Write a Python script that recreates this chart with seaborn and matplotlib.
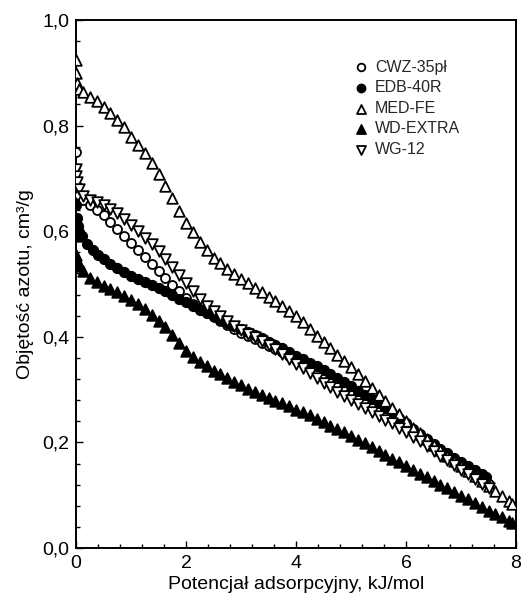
import matplotlib
matplotlib.use("Agg")
import matplotlib.pyplot as plt
import seaborn as sns
import pandas as pd
from matplotlib.ticker import MultipleLocator, FuncFormatter

# ---- data ----
series_names = ["CWZ-35pł", "EDB-40R", "MED-FE", "WD-EXTRA", "WG-12"]

CWZ_35pl = [(0, 0.750), (0.02, 0.685), (0.06, 0.668), (0.125, 0.660), (0.25, 0.650), (0.375, 0.640),
            (0.5, 0.630), (0.625, 0.618), (0.75, 0.604), (0.875, 0.591), (1.0, 0.578), (1.125, 0.565),
            (1.25, 0.551), (1.375, 0.538), (1.5, 0.525), (1.625, 0.512), (1.75, 0.499), (1.875, 0.486),
            (2.0, 0.474), (2.125, 0.463), (2.25, 0.453), (2.375, 0.445), (2.5, 0.437), (2.625, 0.429),
            (2.75, 0.422), (2.875, 0.415), (3.0, 0.408), (3.125, 0.402), (3.25, 0.396), (3.375, 0.389),
            (3.5, 0.383), (3.625, 0.377), (3.75, 0.371), (3.875, 0.364), (4.0, 0.357), (4.125, 0.350),
            (4.25, 0.343), (4.375, 0.336), (4.5, 0.329), (4.625, 0.321), (4.75, 0.313), (4.875, 0.305),
            (5.0, 0.297), (5.125, 0.289), (5.25, 0.281), (5.375, 0.273), (5.5, 0.265), (5.625, 0.256),
            (5.75, 0.247), (5.875, 0.238), (6.0, 0.229), (6.125, 0.220), (6.25, 0.211), (6.375, 0.202),
            (6.5, 0.193), (6.625, 0.185), (6.75, 0.176), (6.875, 0.167), (7.0, 0.159), (7.125, 0.150),
            (7.25, 0.141), (7.375, 0.132), (7.5, 0.122)]

EDB_40R = [(0, 0.650), (0.01, 0.625), (0.03, 0.610), (0.06, 0.598), (0.1, 0.590), (0.2, 0.575),
           (0.3, 0.565), (0.4, 0.555), (0.5, 0.547), (0.625, 0.538), (0.75, 0.530), (0.875, 0.522),
           (1.0, 0.516), (1.125, 0.510), (1.25, 0.504), (1.375, 0.498), (1.5, 0.492), (1.625, 0.486),
           (1.75, 0.479), (1.875, 0.472), (2.0, 0.465), (2.125, 0.458), (2.25, 0.451), (2.375, 0.445),
           (2.5, 0.439), (2.625, 0.433), (2.75, 0.427), (2.875, 0.421), (3.0, 0.415), (3.125, 0.409),
           (3.25, 0.403), (3.375, 0.397), (3.5, 0.391), (3.625, 0.385), (3.75, 0.378), (3.875, 0.371),
           (4.0, 0.364), (4.125, 0.358), (4.25, 0.351), (4.375, 0.344), (4.5, 0.337), (4.625, 0.330),
           (4.75, 0.322), (4.875, 0.314), (5.0, 0.306), (5.125, 0.298), (5.25, 0.290), (5.375, 0.282),
           (5.5, 0.274), (5.625, 0.265), (5.75, 0.256), (5.875, 0.246), (6.0, 0.236), (6.125, 0.226),
           (6.25, 0.216), (6.375, 0.206), (6.5, 0.197), (6.625, 0.188), (6.75, 0.179), (6.875, 0.171),
           (7.0, 0.163), (7.125, 0.155), (7.25, 0.148), (7.375, 0.141), (7.46, 0.135)]

MED_FE = [(0, 0.924), (0, 0.900), (0.02, 0.880), (0.06, 0.870), (0.125, 0.863), (0.25, 0.855),
          (0.375, 0.846), (0.5, 0.835), (0.625, 0.824), (0.75, 0.811), (0.875, 0.797), (1.0, 0.778),
          (1.125, 0.763), (1.25, 0.748), (1.375, 0.730), (1.5, 0.709), (1.625, 0.686), (1.75, 0.662),
          (1.875, 0.638), (2.0, 0.616), (2.125, 0.598), (2.25, 0.580), (2.375, 0.564), (2.5, 0.549),
          (2.625, 0.539), (2.75, 0.529), (2.875, 0.519), (3.0, 0.510), (3.125, 0.501), (3.25, 0.493),
          (3.375, 0.484), (3.5, 0.475), (3.625, 0.467), (3.75, 0.458), (3.875, 0.449), (4.0, 0.440),
          (4.125, 0.428), (4.25, 0.415), (4.375, 0.402), (4.5, 0.390), (4.625, 0.378), (4.75, 0.366),
          (4.875, 0.354), (5.0, 0.342), (5.125, 0.329), (5.25, 0.316), (5.375, 0.303), (5.5, 0.290),
          (5.625, 0.278), (5.75, 0.266), (5.875, 0.253), (6.0, 0.240), (6.125, 0.228), (6.25, 0.217),
          (6.375, 0.206), (6.5, 0.195), (6.625, 0.185), (6.75, 0.175), (6.875, 0.165), (7.0, 0.155),
          (7.125, 0.146), (7.25, 0.136), (7.375, 0.127), (7.5, 0.117), (7.625, 0.108), (7.75, 0.098),
          (7.875, 0.089), (7.93, 0.084)]

WD_EXTRA = [(0, 0.590), (0, 0.555), (0.02, 0.545), (0.06, 0.535), (0.125, 0.525), (0.25, 0.512),
            (0.375, 0.504), (0.5, 0.497), (0.625, 0.491), (0.75, 0.484), (0.875, 0.477), (1.0, 0.470),
            (1.125, 0.462), (1.25, 0.453), (1.375, 0.442), (1.5, 0.430), (1.625, 0.418), (1.75, 0.404),
            (1.875, 0.388), (2.0, 0.374), (2.125, 0.362), (2.25, 0.352), (2.375, 0.344), (2.5, 0.336),
            (2.625, 0.329), (2.75, 0.322), (2.875, 0.315), (3.0, 0.308), (3.125, 0.302), (3.25, 0.296),
            (3.375, 0.290), (3.5, 0.285), (3.625, 0.279), (3.75, 0.274), (3.875, 0.268), (4.0, 0.262),
            (4.125, 0.257), (4.25, 0.251), (4.375, 0.245), (4.5, 0.239), (4.625, 0.232), (4.75, 0.226),
            (4.875, 0.219), (5.0, 0.212), (5.125, 0.205), (5.25, 0.198), (5.375, 0.191), (5.5, 0.184),
            (5.625, 0.177), (5.75, 0.169), (5.875, 0.162), (6.0, 0.155), (6.125, 0.148), (6.25, 0.141),
            (6.375, 0.134), (6.5, 0.127), (6.625, 0.120), (6.75, 0.113), (6.875, 0.106), (7.0, 0.099),
            (7.125, 0.092), (7.25, 0.085), (7.375, 0.078), (7.5, 0.071), (7.625, 0.064), (7.75, 0.058),
            (7.875, 0.051), (7.93, 0.047)]

WG_12 = [(0, 0.718), (0, 0.705), (0.02, 0.693), (0.05, 0.680), (0.125, 0.667), (0.25, 0.660),
         (0.375, 0.655), (0.5, 0.649), (0.625, 0.642), (0.75, 0.634), (0.875, 0.624), (1.0, 0.612),
         (1.125, 0.600), (1.25, 0.588), (1.375, 0.575), (1.5, 0.562), (1.625, 0.548), (1.75, 0.533),
         (1.875, 0.517), (2.0, 0.501), (2.125, 0.486), (2.25, 0.471), (2.375, 0.459), (2.5, 0.448),
         (2.625, 0.439), (2.75, 0.430), (2.875, 0.421), (3.0, 0.413), (3.125, 0.405), (3.25, 0.399),
         (3.375, 0.392), (3.5, 0.385), (3.625, 0.376), (3.75, 0.367), (3.875, 0.358), (4.0, 0.349),
         (4.125, 0.340), (4.25, 0.331), (4.375, 0.322), (4.5, 0.313), (4.625, 0.304), (4.75, 0.296),
         (4.875, 0.288), (5.0, 0.280), (5.125, 0.272), (5.25, 0.265), (5.375, 0.257), (5.5, 0.250),
         (5.625, 0.243), (5.75, 0.236), (5.875, 0.228), (6.0, 0.220), (6.125, 0.211), (6.25, 0.202),
         (6.375, 0.193), (6.5, 0.184), (6.625, 0.175), (6.75, 0.166), (6.875, 0.157), (7.0, 0.148),
         (7.125, 0.140), (7.25, 0.131), (7.375, 0.122), (7.5, 0.114)]

x_label = "Potencjał adsorpcyjny, kJ/mol"
y_label = "Objętość azotu, cm³/g"

# ---- style ----
sns.set_theme(style="ticks")
plt.rcParams['font.family'] = ['Liberation Sans', 'DejaVu Sans']

fig = plt.figure(figsize=(5.22, 6.02), dpi=100)
ax = fig.add_axes([76 / 522, 54 / 602, 440 / 522, 528 / 602])

series_data = [CWZ_35pl, EDB_40R, MED_FE, WD_EXTRA, WG_12]
styles = [
    dict(marker="o", color="white", s=42),
    dict(marker="o", color="black", s=46),
    dict(marker="^", color="white", s=58),
    dict(marker="^", color="black", s=58),
    dict(marker="v", color="white", s=58),
]

for name, pts, st in zip(series_names, series_data, styles):
    df = pd.DataFrame(pts, columns=["x", "y"])
    sns.scatterplot(data=df, x="x", y="y", ax=ax, label=name,
                    marker=st["marker"], color=st["color"], s=st["s"],
                    edgecolor="black", linewidth=1.3, zorder=3)

ax.set_xlim(0, 8)
ax.set_ylim(0, 1.0)
ax.xaxis.set_major_locator(MultipleLocator(2))
ax.xaxis.set_minor_locator(MultipleLocator(0.4))
ax.yaxis.set_major_locator(MultipleLocator(0.2))
ax.yaxis.set_minor_locator(MultipleLocator(0.04))
ax.yaxis.set_major_formatter(FuncFormatter(lambda v, p: f"{v:.1f}".replace(".", ",")))
ax.xaxis.set_major_formatter(FuncFormatter(lambda v, p: f"{v:.0f}"))

ax.tick_params(which="both", direction="in", top=False, right=False, colors="black",
               labelsize=14, width=1.0)
ax.tick_params(which="major", length=5, pad=5)
ax.tick_params(which="minor", length=3)
for sp in ax.spines.values():
    sp.set_linewidth(1.4)
    sp.set_color("black")

ax.set_xlabel(x_label, fontsize=14, color="black", labelpad=3)
ax.set_ylabel(y_label, fontsize=14, color="black", labelpad=6)

leg = ax.legend(frameon=False, loc="upper left", bbox_to_anchor=(0.625, 0.925),
                fontsize=11.5, handletextpad=0.3, labelspacing=0.35, borderaxespad=0,
                handlelength=1.2, borderpad=0, markerscale=0.85)

fig.savefig("out.png", dpi=100)
